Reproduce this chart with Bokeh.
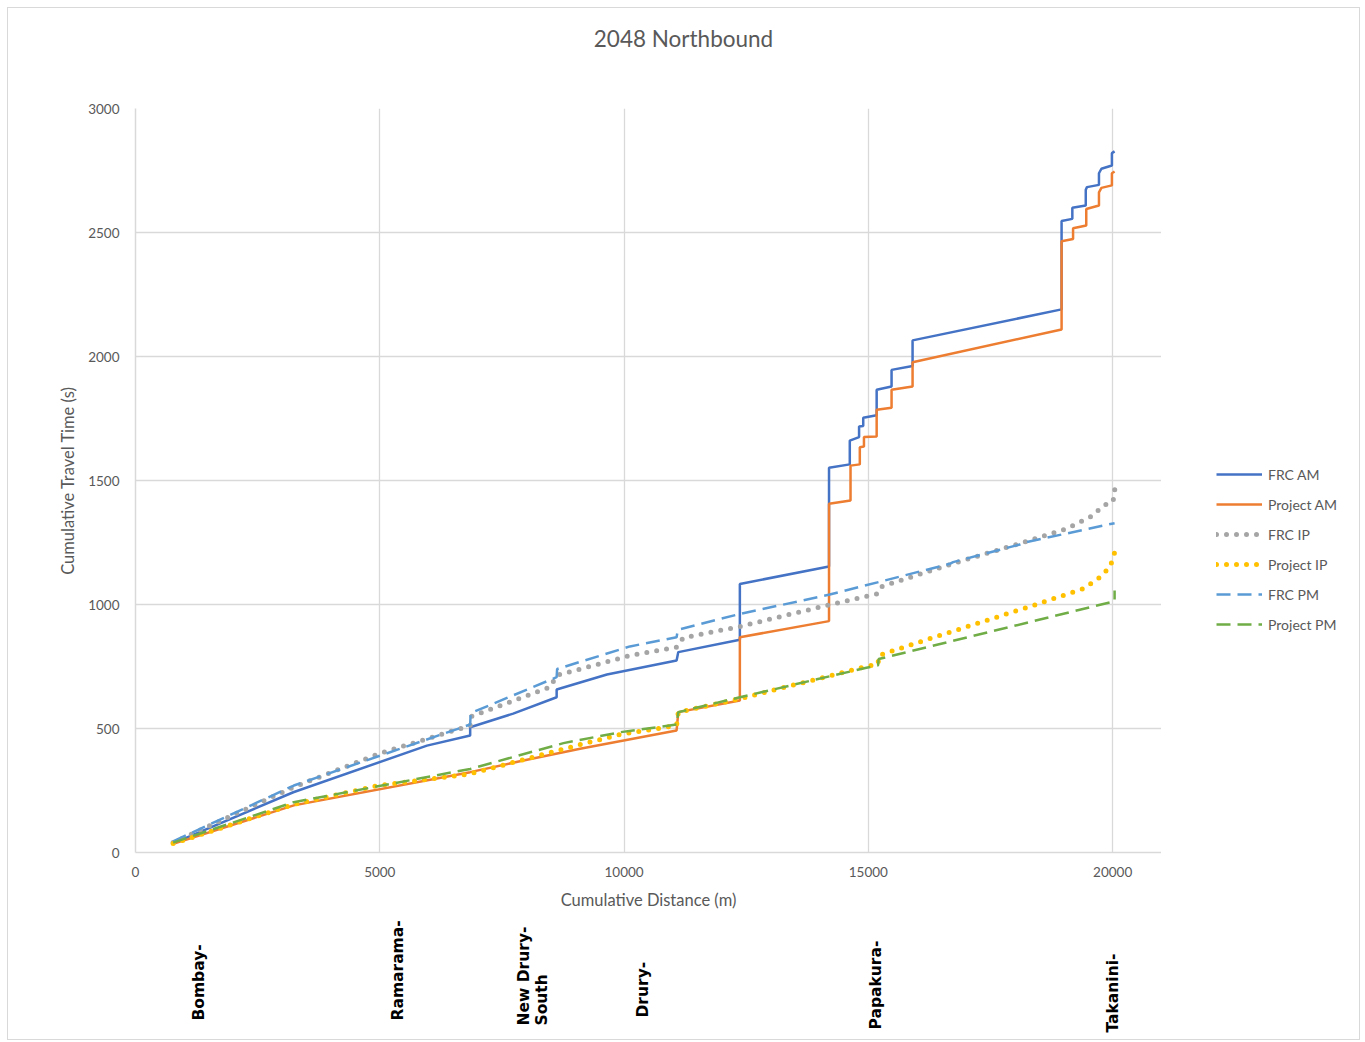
import numpy as np
from bokeh.plotting import figure
from bokeh.models import Range1d, Legend, LegendItem, SingleIntervalTicker
from bokeh.layouts import column, row
from bokeh.embed import file_html
from bokeh.resources import INLINE
from bokeh.core.properties import value

# ---------------- data ----------------
frc_am_x = [770, 3230, 5965, 6850, 6850, 7730, 8620, 8620, 9650, 11075, 11110, 12370, 12370,
            14195, 14195, 14620, 14620, 14810, 14810, 14895, 14895, 15170, 15170, 15475, 15475,
            15905, 15905, 18955, 18955, 19175, 19175, 19450, 19450, 19475, 19720, 19720, 19770,
            19985, 19985, 20040]
frc_am_y = [37, 243, 431, 472, 505, 560, 626, 657, 718, 774, 808, 858, 1083,
            1153, 1551, 1565, 1661, 1675, 1718, 1720, 1753, 1763, 1866, 1879, 1946,
            1962, 2065, 2190, 2546, 2555, 2600, 2609, 2672, 2683, 2692, 2739, 2757,
            2770, 2820, 2827]

proj_am_x = [770, 3240, 6850, 7940, 9100, 11075, 11110, 12370, 12370, 14195, 14195, 14635, 14635,
             14825, 14825, 14910, 14910, 15170, 15170, 15475, 15475, 15905, 15905, 18955, 18955,
             19190, 19190, 19460, 19460, 19720, 19720, 19770, 19985, 19985, 20040]
proj_am_y = [35, 190, 324, 371, 418, 492, 566, 613, 868, 933, 1406, 1419, 1560,
             1565, 1634, 1637, 1675, 1677, 1785, 1793, 1866, 1879, 1977, 2109, 2465,
             2474, 2517, 2528, 2595, 2609, 2662, 2680, 2690, 2739, 2746]

frc_ip_x = [770, 3230, 4975, 6850, 6860, 8490, 8620, 10120, 11075, 11210, 12370, 14140, 15170,
            15235, 16665, 18030, 19050, 19600, 19800, 20005, 20040, 20050]
frc_ip_y = [40, 263, 398, 512, 548, 667, 714, 794, 828, 866, 911, 996, 1043,
            1070, 1161, 1242, 1305, 1359, 1399, 1413, 1450, 1493]

proj_ip_x = [770, 3240, 4975, 6850, 9100, 9920, 11075, 11110, 12370, 14960, 15200, 15210, 16190,
             18370, 19390, 19700, 19940, 20005, 20055]
proj_ip_y = [36, 194, 270, 317, 435, 476, 512, 566, 620, 750, 760, 794, 858,
             996, 1063, 1103, 1150, 1184, 1220]

frc_pm_x = [770, 3240, 6850, 6860, 8620, 8630, 10120, 11075, 11100, 12370, 14210, 16665, 16735,
            18100, 18200, 20040]
frc_pm_y = [45, 270, 516, 562, 707, 740, 831, 868, 898, 962, 1040, 1164, 1171,
            1242, 1250, 1328]

proj_pm_x = [770, 3240, 6850, 8760, 9920, 11075, 11110, 12370, 14960, 15200, 15210, 20040, 20040]
proj_pm_y = [40, 203, 337, 441, 485, 516, 566, 626, 745, 755, 780, 1013, 1056]

series_names = ["FRC AM", "Project AM", "FRC IP", "Project IP", "FRC PM", "Project PM"]

station_names = ["Bombay-", "Ramarama-", "New Drury-\nSouth", "Drury-", "Papakura-", "Takanini-"]
station_x = [1290, 5380, 8140, 10390, 15150, 20000]
station_bottom = [19, 19, 14, 22, 10, 7]   # px above bottom edge

chart_title = "2048 Northbound"

# ---------------- styling ----------------
TXT = "#595959"
GRID = "#d9d9d9"
FONT = "Lato"
styles = [
    dict(line_color="#4472C4", line_width=2.5),
    dict(line_color="#ED7D31", line_width=2.5),
    dict(line_color="#A5A5A5", line_width=5, line_dash="0 10", line_cap="round"),
    dict(line_color="#FFC000", line_width=5, line_dash="0 10", line_cap="round"),
    dict(line_color="#5B9BD5", line_width=2.5, line_dash="14 7"),
    dict(line_color="#70AD47", line_width=2.5, line_dash="14 7"),
]


def bare(fig):
    fig.axis.visible = False
    fig.grid.visible = False
    fig.outline_line_color = None


# ---------------- title strip ----------------
p0 = figure(width=1351, height=60, output_backend="svg", toolbar_location=None,
            x_range=Range1d(0, 1026), y_range=Range1d(0, 60),
            min_border_left=127, min_border_right=198, min_border_top=0, min_border_bottom=0)
bare(p0)
p0.text(x=[548], y=[30], text=[chart_title], text_align="center", text_baseline="middle",
        text_font=value(FONT), text_font_size="22.5px", text_color=TXT)

# ---------------- main chart ----------------
p = figure(width=1153, height=847, output_backend="svg", toolbar_location=None,
           x_range=Range1d(0, 21000), y_range=Range1d(0, 3000),
           min_border_left=127, min_border_right=0, min_border_top=40, min_border_bottom=63)

p.outline_line_color = None
p.xaxis.ticker = SingleIntervalTicker(interval=5000)
p.yaxis.ticker = SingleIntervalTicker(interval=500)
for ax in (p.xaxis, p.yaxis):
    ax.axis_line_color = GRID
    ax.axis_line_width = 1.5
    ax.major_tick_line_color = None
    ax.minor_tick_line_color = None
    ax.major_label_text_color = TXT
    ax.major_label_text_font = FONT
    ax.major_label_text_font_size = "13.5px"
    ax.axis_label_text_color = TXT
    ax.axis_label_text_font = FONT
    ax.axis_label_text_font_size = "16.5px"
    ax.axis_label_text_font_style = "normal"
p.xaxis.axis_label = "Cumulative Distance (m)"
p.yaxis.axis_label = "Cumulative Travel Time (s)"
p.xaxis.major_label_standoff = 8
p.yaxis.major_label_standoff = 10
p.xaxis.axis_label_standoff = 10
p.yaxis.axis_label_standoff = 7

p.grid.grid_line_color = GRID
p.grid.grid_line_width = 1.3

series = [(frc_am_x, frc_am_y), (proj_am_x, proj_am_y), (frc_ip_x, frc_ip_y),
          (proj_ip_x, proj_ip_y), (frc_pm_x, frc_pm_y), (proj_pm_x, proj_pm_y)]
for (xs, ys), st in zip(series, styles):
    p.line(xs, ys, **st)

# ---------------- legend panel (right side) ----------------
pleg = figure(width=198, height=847, output_backend="svg", toolbar_location=None,
              x_range=Range1d(-2, -1), y_range=Range1d(-2, -1),
              min_border_left=0, min_border_right=0, min_border_top=0, min_border_bottom=0)
bare(pleg)
items = []
for name, (xs, ys), st in zip(series_names, series, styles):
    r = pleg.line(xs, ys, **st)   # same series, out of this panel's view: legend keys only
    items.append(LegendItem(label=name, renderers=[r]))
legend = Legend(items=items, location=(55, 218), padding=0, margin=0, spacing=10,
                glyph_width=46, glyph_height=20, label_height=20, label_standoff=6,
                label_text_font=FONT, label_text_font_size="14px", label_text_color=TXT,
                border_line_color=None, background_fill_alpha=0)
pleg.add_layout(legend)

# ---------------- station labels strip ----------------
p2 = figure(width=1351, height=124, output_backend="svg", toolbar_location=None,
            x_range=p.x_range, y_range=Range1d(0, 124),
            min_border_left=127, min_border_right=198, min_border_top=0, min_border_bottom=0)
bare(p2)
p2.text(x=station_x, y=station_bottom, text=station_names, angle=np.pi / 2,
        text_align="left", text_baseline="middle", text_font=value("DejaVu Sans"),
        text_font_style="bold", text_font_size="15.5px", text_color="black",
        text_line_height=1.0)

layout = column(p0, row(p, pleg), p2,
                styles={"border": "1px solid #d9d9d9", "margin-left": "7px", "margin-top": "7px"})

open("out.html", "w").write(file_html(layout, INLINE))
